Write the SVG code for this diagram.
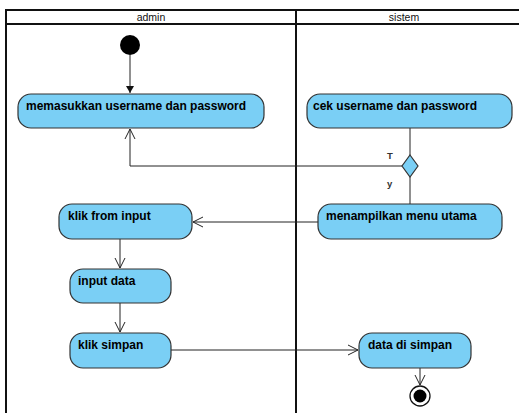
<svg xmlns="http://www.w3.org/2000/svg" width="519" height="413" viewBox="0 0 519 413">
<style>
.lane{fill:none;stroke:#111;stroke-width:2}
.hdr{font-family:"Liberation Sans",Arial,sans-serif;font-size:10.5px;fill:#111;text-anchor:middle}
.act{fill:#7acff5;stroke:#333;stroke-width:1.2}
.lbl{font-family:"Liberation Sans",Arial,sans-serif;font-size:12px;font-weight:bold;fill:#000}
.edge{fill:none;stroke:#222;stroke-width:1}
.guard{font-family:"Liberation Sans",Arial,sans-serif;font-size:9.5px;font-weight:bold;fill:#333}
</style>
<defs>
<marker id="open" markerWidth="12" markerHeight="12" viewBox="0 0 12 12" refX="11" refY="6" orient="auto" markerUnits="userSpaceOnUse">
<path d="M1,1 L11,6 L1,11" fill="none" stroke="#222" stroke-width="1"/>
</marker>
<marker id="filled" markerWidth="8" markerHeight="8" viewBox="0 0 8 8" refX="7" refY="4" orient="auto" markerUnits="userSpaceOnUse">
<path d="M0,0 L7,4 L0,8 Z" fill="#111"/>
</marker>
</defs>
<rect width="519" height="413" fill="#fff"/>
<g id="swimlanes">
<path class="lane" d="M6,420 V10 H530 M6,24 H530 M296,10 V420"/>
<text class="hdr" x="151" y="21">admin</text>
<text class="hdr" x="404" y="21">sistem</text>
</g>
<g id="connectors">
<path class="edge" d="M130,55 V93" marker-end="url(#filled)"/>
<path class="edge" d="M410,128 V155"/>
<path class="edge" d="M402,166 H130 V129" marker-end="url(#open)"/>
<path class="edge" d="M410,177 V204"/>
<path class="edge" d="M318,222 H193" marker-end="url(#open)"/>
<path class="edge" d="M120,239 V268" marker-end="url(#open)"/>
<path class="edge" d="M120,303 V332" marker-end="url(#open)"/>
<path class="edge" d="M171,350 H358" marker-end="url(#open)"/>
<path class="edge" d="M420,368 V385" marker-end="url(#open)"/>
<text class="guard" x="387" y="159">T</text>
<text class="guard" x="387" y="187">y</text>
</g>
<g id="start"><circle cx="130" cy="45" r="10" fill="#000"/></g>
<g id="n1"><rect class="act" x="18" y="94" width="246" height="34" rx="13"/><text class="lbl" x="26" y="110">memasukkan username dan password</text></g>
<g id="n2"><rect class="act" x="307" y="94" width="205" height="34" rx="13"/><text class="lbl" x="313" y="110">cek username dan password</text></g>
<g id="decision"><path d="M410,155 L418,166 L410,177 L402,166 Z" fill="#7acff5" stroke="#333" stroke-width="1.2"/></g>
<g id="n3"><rect class="act" x="318" y="204" width="184" height="35" rx="13"/><text class="lbl" x="326" y="220">menampilkan menu utama</text></g>
<g id="n4"><rect class="act" x="59" y="204" width="133" height="35" rx="13"/><text class="lbl" x="68" y="220">klik from input</text></g>
<g id="n5"><rect class="act" x="70" y="269" width="101" height="34" rx="13"/><text class="lbl" x="78" y="285">input data</text></g>
<g id="n6"><rect class="act" x="70" y="333" width="101" height="35" rx="13"/><text class="lbl" x="78" y="349">klik simpan</text></g>
<g id="n7"><rect class="act" x="359" y="333" width="112" height="35" rx="13"/><text class="lbl" x="368" y="349">data di simpan</text></g>
<g id="end"><circle cx="420" cy="396" r="10" fill="#fff" stroke="#111" stroke-width="1.3"/><circle cx="420" cy="396" r="6.5" fill="#000"/></g>
</svg>
